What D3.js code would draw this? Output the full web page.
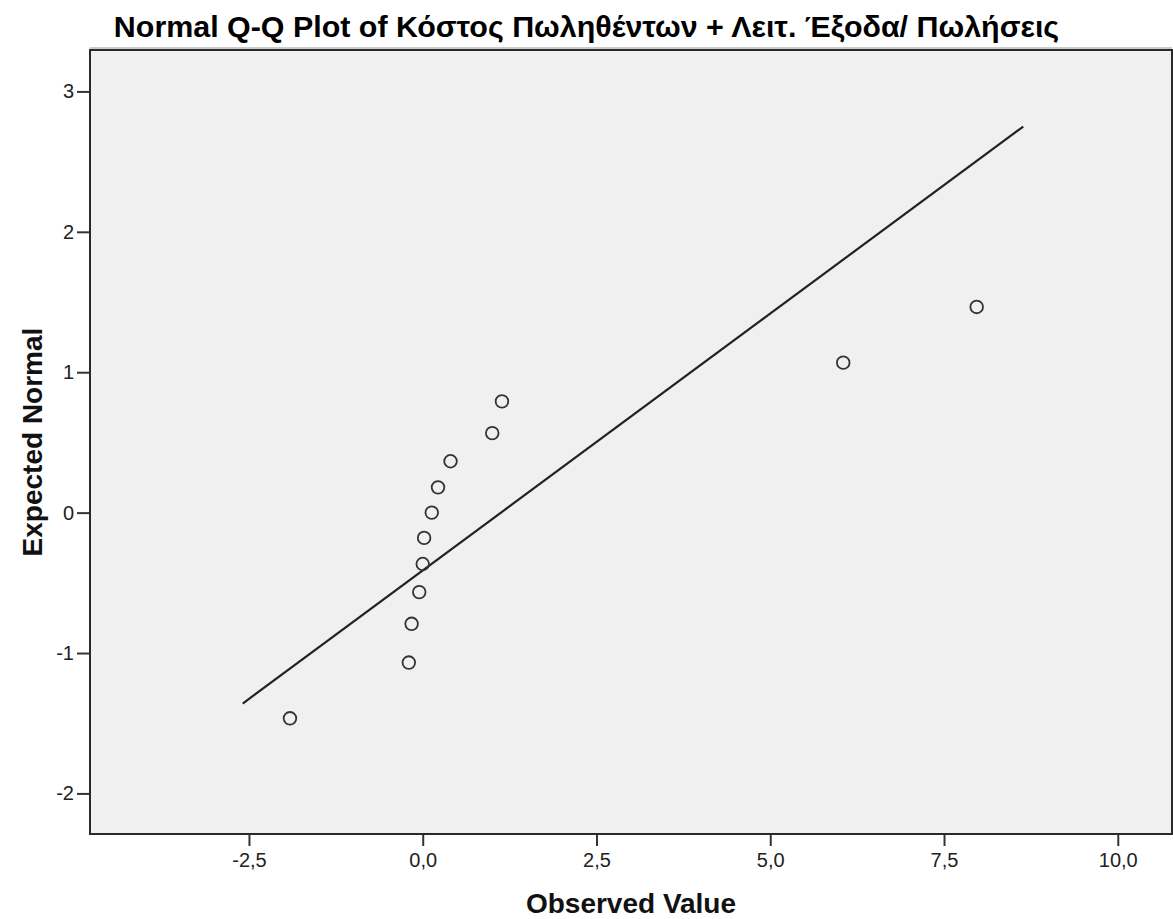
<!DOCTYPE html>
<html>
<head>
<meta charset="utf-8">
<script src="https://cdn.jsdelivr.net/npm/d3@7"></script>
<style>
  html, body { margin: 0; padding: 0; background: #fff; }
  svg { display: block; }
</style>
</head>
<body>
<svg id="chart" width="1173" height="919"></svg>
<script>
// ---- data ----
const titleText = "Normal Q-Q Plot of Κόστος Πωληθέντων + Λειτ. Έξοδα/ Πωλήσεις";
const xTitle = "Observed Value";
const yTitle = "Expected Normal";
const observed = [-1.91, -0.20, -0.16, -0.05, 0.00, 0.02, 0.13, 0.22, 0.40, 1.00, 1.14, 6.05, 7.97];
const expected = [-1.465, -1.068, -0.792, -0.566, -0.366, -0.180, 0.000, 0.180, 0.366, 0.566, 0.792, 1.068, 1.465];
const lineX = [-2.59, 8.64];
const lineY = [-1.36, 2.75];
const xTicks = [-2.5, 0, 2.5, 5, 7.5, 10];
const yTicks = [-2, -1, 0, 1, 2, 3];
const xDomain = [-4.787, 10.78];
const yDomain = [-2.289, 3.295];

// ---- layout ----
const W = 1173, H = 919;
const plot = { left: 90, right: 1172, top: 50, bottom: 834 };
const svg = d3.select("#chart");
const font = "'Liberation Sans', Arial, sans-serif";

const x = d3.scaleLinear().domain(xDomain).range([plot.left, plot.right]);
const y = d3.scaleLinear().domain(yDomain).range([plot.bottom, plot.top]);

// background
svg.append("rect")
  .attr("x", plot.left).attr("y", plot.top)
  .attr("width", plot.right - plot.left).attr("height", plot.bottom - plot.top)
  .attr("fill", "#f0f0f0");

const fmt = d => d3.format(".1f")(d).replace(".", ",").replace("−", "-");

// x axis
const gx = svg.append("g")
  .attr("transform", `translate(0,${plot.bottom})`)
  .call(d3.axisBottom(x).tickValues(xTicks).tickFormat(fmt).tickSize(12).tickPadding(7));
// y axis
const gy = svg.append("g")
  .attr("transform", `translate(${plot.left},0)`)
  .call(d3.axisLeft(y).tickValues(yTicks).tickFormat(d => String(d)).tickSize(13).tickPadding(3));

[gx, gy].forEach(g => {
  g.select(".domain").remove();
  g.selectAll(".tick line").attr("stroke", "#333").attr("stroke-width", 2);
  g.selectAll(".tick text")
    .attr("font-family", font).attr("font-size", 20).attr("fill", "#222");
});

// frame
svg.append("rect")
  .attr("x", plot.left).attr("y", plot.top)
  .attr("width", plot.right - plot.left).attr("height", plot.bottom - plot.top)
  .attr("fill", "none").attr("stroke", "#2a2a2a").attr("stroke-width", 2);
svg.append("line")
  .attr("x1", plot.left).attr("x2", plot.right)
  .attr("y1", plot.top - 2).attr("y2", plot.top - 2)
  .attr("stroke", "#999").attr("stroke-width", 1);

// reference line
svg.append("line")
  .attr("x1", x(lineX[0])).attr("y1", y(lineY[0]))
  .attr("x2", x(lineX[1])).attr("y2", y(lineY[1]))
  .attr("stroke", "#222").attr("stroke-width", 2.2);

// points
svg.append("g").selectAll("circle")
  .data(observed.map((v, i) => ({ x: v, y: expected[i] })))
  .join("circle")
  .attr("cx", d => x(d.x)).attr("cy", d => y(d.y))
  .attr("r", 6.3)
  .attr("fill", "none").attr("stroke", "#333").attr("stroke-width", 1.8);

// title
const t = svg.append("text")
  .attr("x", W / 2).attr("y", 37)
  .attr("text-anchor", "middle")
  .attr("font-family", font).attr("font-weight", "bold").attr("font-size", 26)
  .attr("fill", "#000")
  .text(titleText);
const tw = t.node().getComputedTextLength();
t.attr("font-size", 26 * 946 / tw);

// axis titles
svg.append("text")
  .attr("x", (plot.left + plot.right) / 2).attr("y", 913)
  .attr("text-anchor", "middle")
  .attr("font-family", font).attr("font-weight", "bold").attr("font-size", 28)
  .attr("fill", "#111")
  .text(xTitle);

svg.append("text")
  .attr("transform", `translate(42,${(plot.top + plot.bottom) / 2}) rotate(-90)`)
  .attr("text-anchor", "middle")
  .attr("font-family", font).attr("font-weight", "bold").attr("font-size", 28)
  .attr("fill", "#111")
  .text(yTitle);
</script>
</body>
</html>
